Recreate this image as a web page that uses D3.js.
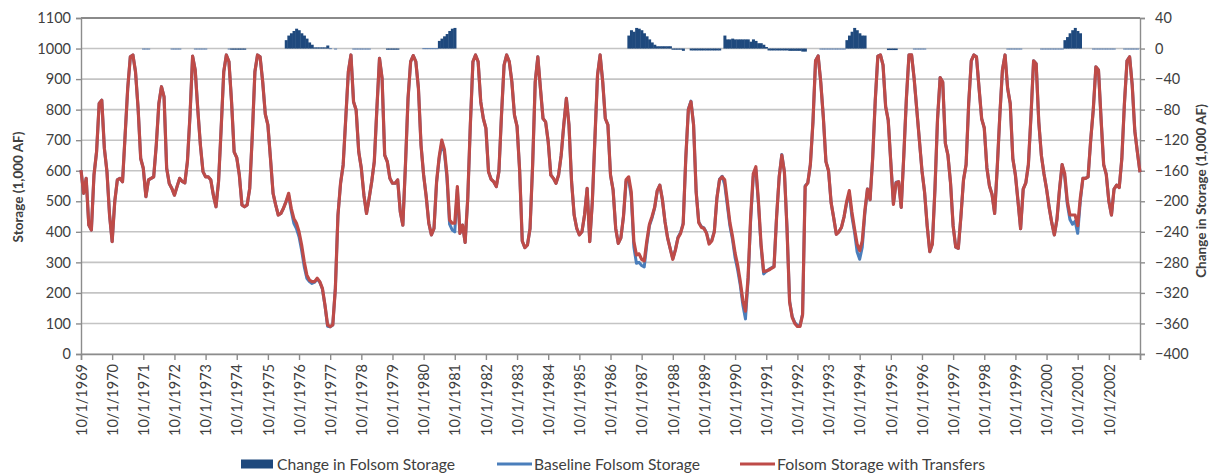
<!DOCTYPE html>
<html><head><meta charset="utf-8">
<script src="https://cdn.jsdelivr.net/npm/d3@7"></script>
<style>
body{margin:0;background:#fff;}
text{font-family:Lato,"Open Sans",sans-serif;fill:#404040;}
</style>
</head><body>
<svg id="c" width="1210" height="473"></svg>
<script>
// ---- DATA (monthly, starting 10/1/1969) ----
const xTickLabels = ["10/1/1969","10/1/1970","10/1/1971","10/1/1972","10/1/1973","10/1/1974","10/1/1975","10/1/1976","10/1/1977","10/1/1978","10/1/1979","10/1/1980","10/1/1981","10/1/1982","10/1/1983","10/1/1984","10/1/1985","10/1/1986","10/1/1987","10/1/1988","10/1/1989","10/1/1990","10/1/1991","10/1/1992","10/1/1993","10/1/1994","10/1/1995","10/1/1996","10/1/1997","10/1/1998","10/1/1999","10/1/2000","10/1/2001","10/1/2002"];
const leftTicks = [0,100,200,300,400,500,600,700,800,900,1000,1100];
const rightTicks = [-400,-360,-320,-280,-240,-200,-160,-120,-80,-40,0,40];
const seriesNames = ["Change in Folsom Storage","Baseline Folsom Storage","Folsom Storage with Transfers"];

const storageWithTransfers = [
602,526,575,422,406,586,662,820,831,673,597,455,
368,499,570,575,564,717,870,973,979,924,804,640,
608,515,570,575,580,684,820,875,842,608,558,542,
520,548,575,565,560,630,782,975,930,800,684,597,
580,580,570,520,482,565,739,924,979,957,826,662,
643,586,488,482,488,542,717,924,979,973,891,785,
750,640,526,488,455,460,477,499,526,477,444,428,
400,357,302,259,242,237,237,248,237,215,160,95,
90,95,215,455,559,619,771,924,979,826,799,662,
608,520,460,509,564,630,804,968,902,651,630,575,
559,559,570,466,422,619,837,957,977,957,870,684,
586,515,428,390,411,564,646,700,670,586,439,428,
428,548,395,422,365,509,750,957,979,957,826,771,
739,597,572,564,548,597,782,946,979,957,891,782,
745,600,370,348,357,411,619,891,973,870,771,760,
695,586,575,559,586,651,750,837,750,564,455,411,
390,400,455,542,368,499,706,913,979,891,771,750,
586,537,411,362,380,450,570,580,530,368,324,328,
310,305,370,425,450,480,535,553,505,433,380,345,
310,340,380,395,425,640,800,826,750,530,430,415,
411,395,360,370,400,510,570,580,570,500,430,385,
330,290,237,175,140,250,450,590,613,499,360,270,
272,275,280,285,450,580,651,595,410,170,120,100,
90,90,128,548,560,620,760,960,976,890,775,630,
600,495,445,392,400,415,450,500,535,465,410,360,
338,370,470,540,505,640,830,975,979,946,810,765,
625,490,560,564,480,650,837,979,979,900,800,700,
600,530,420,335,360,540,770,905,890,690,651,560,
420,350,346,450,570,620,820,960,979,973,870,770,
740,610,550,522,460,610,782,930,979,870,820,640,
586,500,410,540,560,620,780,960,950,760,650,590,
540,480,430,390,440,540,620,590,500,455,455,455,
420,510,575,575,580,700,800,940,930,770,620,588,
500,455,540,553,545,640,820,960,973,880,730,660,
595];

const baselineStorage = [
602,526,575,422,406,586,662,820,831,673,597,455,
368,499,570,575,564,717,870,973,979,924,804,640,
608,515,570,575,580,684,820,875,842,608,558,542,
520,548,575,565,560,630,782,975,930,800,684,597,
580,580,570,520,482,565,739,924,979,957,826,662,
643,586,488,482,488,542,717,924,979,973,891,785,
750,640,526,488,455,460,477,499,520,468,428,411,
384,340,286,248,237,231,235,246,235,213,158,91,
89,95,216,455,559,619,771,924,979,826,799,662,
608,520,460,509,564,630,804,968,902,651,630,575,
559,559,570,466,422,619,837,957,977,957,870,684,
586,515,428,390,411,564,640,690,660,575,425,406,
400,540,395,422,365,509,750,957,979,957,826,771,
739,597,572,564,548,597,782,946,979,957,891,782,
745,600,370,348,357,411,619,891,973,870,771,760,
695,586,575,559,586,651,750,837,750,564,455,411,
390,400,455,542,368,499,706,913,979,891,771,750,
586,537,411,362,380,450,565,570,515,350,297,300,
290,285,360,420,445,478,533,553,505,433,380,345,
312,342,382,398,428,640,802,828,752,532,432,417,
413,397,362,372,402,512,572,582,555,488,420,375,
315,275,225,160,115,240,440,580,603,492,352,262,
270,277,282,287,452,582,653,597,413,173,123,103,
93,93,131,551,560,620,760,960,976,890,775,630,
600,495,445,392,400,415,450,495,525,450,400,335,
310,350,460,540,505,640,830,975,979,946,810,765,
627,492,562,564,480,650,837,979,979,900,800,700,
600,530,420,335,360,540,770,905,890,690,651,560,
420,350,346,450,570,620,820,960,979,973,870,770,
740,610,550,522,460,610,782,930,979,870,820,640,
586,500,410,540,560,620,780,960,950,760,650,590,
540,480,430,390,440,540,620,580,490,440,425,435,
395,500,575,575,580,700,800,940,930,770,620,588,
500,455,540,553,545,640,820,960,973,880,730,660,
595];

const changeInStorage = [
0,0,0,0,0,0,0,0,0,0,0,0,
0,0,0,0,0,0,0,0,0,0,0,0,
-0.5,-0.5,-0.5,0,0,0,0,0,0,0,0,-0.5,
-0.5,-0.5,-0.5,0,0,0,0,0,-1,-1,-1,-1,
-1,0,0,0,0,0,0,0,0,-0.5,-1.5,-1.5,
-1.5,-1.5,-1.5,-1.5,0,0,0,0,0,0,0,0,
0,0,0,0,0,0,0,11,17,20,23,26,
24,20,17,13,8,5,1.5,1.5,1.5,1.5,1.5,4,
0.5,0,-1,0,0,0,0,0,0,-0.5,-0.5,-0.5,
-0.5,-0.5,-0.5,-0.5,0,0,0,0,0,0,-1.5,-1.5,
-1.5,-1.5,-1.5,0,0,0,0,0,0,0,0,0,
0.5,0.5,0.5,0.5,0.5,0.5,10,13,16,19,23,26,
27,0,0,0,0,0,0,0,0,0,0,0,
0,0,0,0,0,0,0,0,0,0,0,0,
0,0,0,0,0,0,0,0,0,0,0,0,
0,0,0,0,0,0,0,0,0,0,0,0,
0,0,0,0,0,0,0,0,0,0,0,0,
0,0,0,0,0,0,0,17,24,22,27,26,
24,20,16,12,8,5,3,3,3,3,3,3,
-1.5,-1.5,-1.5,-1.5,-3,0,0,-2.5,-2.5,-2.5,-2.5,-2.5,
-2.5,-2.5,-2.5,-2.5,-2.5,-2.5,-2.5,0,17,12,12,13,
12,12,12,12,12,12,9,12,10,7,7,5,
2,-2.5,-2.5,-2.5,-2.5,-2.5,-2.5,-2.5,-2.5,-3,-3,-3,
-3,-3,-4,-4,0,0,0,0,0,-0.5,-0.5,-0.5,
-0.5,-0.5,-0.5,-0.5,-0.5,-0.5,-0.5,11,17,22,27,24,
20,17,17,0,0,0,0,0,0,0,0,-2,
-2,-2,-2,0,0,0,0,0,0,-0.5,-0.5,-0.5,
-0.5,-0.5,0,0,0,0,0,0,0,0,0,0,
0,0,0,0,0,0,0,0,0,0,0,0,
0,0,0,0,0,0,0,0,0,-1,-1,-1,
-1,-1,-1,0,0,0,0,0,0,0,-1,-1,
-1,-1,-1,-1,-1,-1,-1,11,15,20,24,27,
23,20,0,0,0,0,-0.5,-0.5,-0.5,-0.5,-0.5,-0.5,
-0.5,-0.5,-0.5,0,0,0,-0.5,-0.5,-0.5,-0.5,-0.5,-0.5,
0];

// ---- CHART ----
const svg = d3.select("#c");
const L = 81, R = 1140, T = 18, B = 354;
const nMonths = 408;
const x = d3.scaleLinear().domain([0, nMonths]).range([L, R]);
const yL = d3.scaleLinear().domain([0, 1100]).range([B, T]);
const yR = d3.scaleLinear().domain([-400, 40]).range([B, T]);
const axisColor = "#8c8c8c";

// gridlines
svg.append("g").selectAll("line").data(leftTicks).join("line")
  .attr("x1", L).attr("x2", R)
  .attr("y1", d => yL(d)).attr("y2", d => yL(d))
  .attr("stroke", d => d === 1100 ? "#8a8a8a" : "#c4c4c4")
  .attr("stroke-width", d => d === 1100 ? 2 : 1.6);

// bars (right axis)
const bw = x(1) - x(0);
svg.append("g").selectAll("rect")
  .data(changeInStorage.map((v, i) => ({v, i})).filter(d => d.v !== 0))
  .join("rect")
  .attr("x", d => x(d.i) - bw / 2)
  .attr("width", bw + 0.4)
  .attr("y", d => Math.min(yR(d.v), yR(0)))
  .attr("height", d => Math.max(1, Math.abs(yR(d.v) - yR(0))))
  .attr("fill", d => Math.abs(d.v) < 1.2 ? "#5b7fb0" : "#1f497d");

// axes
const gL = svg.append("g").attr("transform", `translate(${L},0)`)
  .call(d3.axisLeft(yL).tickValues(leftTicks).tickSize(5).tickPadding(5).tickFormat(d3.format("d")));
const gR = svg.append("g").attr("transform", `translate(${R},0)`)
  .call(d3.axisRight(yR).tickValues(rightTicks).tickSize(5).tickPadding(10).tickFormat(d3.format("d")));
const yearTicks = d3.range(0, nMonths + 1, 12);
const gB = svg.append("g").attr("transform", `translate(0,${B})`)
  .call(d3.axisBottom(x).tickValues(yearTicks).tickSize(6).tickFormat(d => xTickLabels[d / 12] || ""));
[gL, gR, gB].forEach(g => {
  g.select(".domain").attr("stroke", axisColor).attr("stroke-width", 1.4);
  g.selectAll(".tick line").attr("stroke", axisColor).attr("stroke-width", 1.4);
  g.selectAll("text").attr("fill", "#333").style("font-size", "14.5px").style("font-family", "Lato");
});
gB.selectAll("text")
  .attr("transform", "rotate(-90)")
  .attr("text-anchor", "end")
  .attr("x", -10).attr("y", 0).attr("dy", "0.36em");

// lines
const line = d3.line().x((d, i) => x(i)).y(d => yL(d));
svg.append("path").datum(baselineStorage).attr("d", line)
  .attr("fill", "none").attr("stroke", "#4a7ebb").attr("stroke-width", 3)
  .attr("stroke-linejoin", "round");
svg.append("path").datum(storageWithTransfers).attr("d", line)
  .attr("fill", "none").attr("stroke", "#be4b48").attr("stroke-width", 3.2)
  .attr("stroke-linejoin", "round");

// axis titles
svg.append("text").attr("transform", "translate(23,187) rotate(-90)")
  .attr("text-anchor", "middle").style("font-weight", "bold").style("font-size", "13.5px")
  .attr("fill", "#000").text("Storage (1,000 AF)");
svg.append("text").attr("transform", "translate(1206,191) rotate(-90)")
  .attr("text-anchor", "middle").style("font-weight", "bold").style("font-size", "13.5px")
  .attr("fill", "#000").text("Change in Storage (1,000 AF)");

// legend
const lg = svg.append("g");
const legendItems = [
  {name: seriesNames[0], kind: "rect", color: "#1f497d", x0: 241, tx: 277, tw: 178},
  {name: seriesNames[1], kind: "line", color: "#4a7ebb", x0: 497, tx: 534, tw: 166},
  {name: seriesNames[2], kind: "line", color: "#be4b48", x0: 740, tx: 777, tw: 208}
];
legendItems.forEach(it => {
  if (it.kind === "rect") {
    lg.append("rect").attr("x", it.x0).attr("y", 459.5).attr("width", 32).attr("height", 9).attr("fill", it.color);
  } else {
    lg.append("line").attr("x1", it.x0).attr("x2", it.x0 + 35).attr("y1", 464).attr("y2", 464)
      .attr("stroke", it.color).attr("stroke-width", 3);
  }
  lg.append("text").attr("x", it.tx).attr("y", 469.5).style("font-size", "15px").attr("fill", "#222")
    .attr("textLength", it.tw).attr("lengthAdjust", "spacingAndGlyphs").text(it.name);
});
</script>
</body></html>
